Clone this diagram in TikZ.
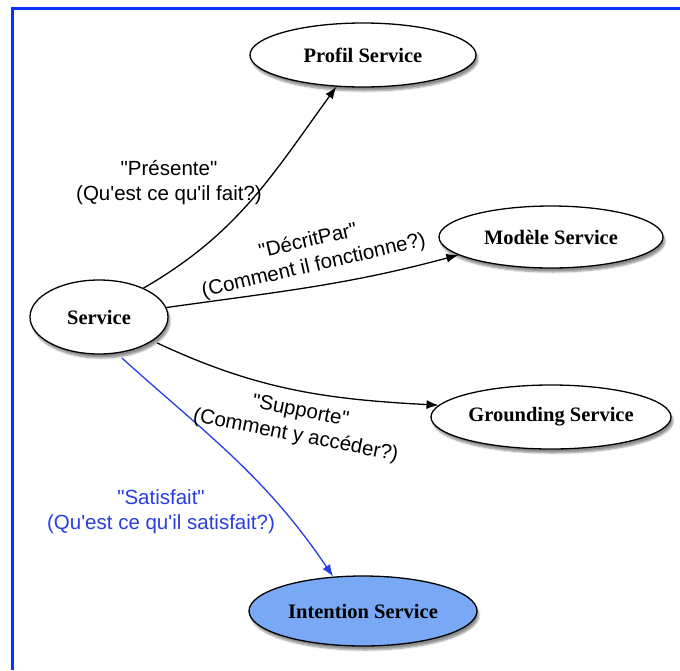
\documentclass[tikz,border=0pt]{standalone}
\usepackage{fontspec}
\setmainfont{Liberation Serif}
\newfontfamily\lblfont{Liberation Sans}
\usetikzlibrary{shapes.geometric,arrows.meta,shadows.blur}
\definecolor{frameblue}{RGB}{10,50,255}
\definecolor{linkblue}{RGB}{40,62,225}
\definecolor{fillblue}{RGB}{121,168,245}
\tikzset{
  svcnode/.style={ellipse, draw=black, line width=1.3pt, fill=white, inner sep=0pt,
    font=\fontsize{20.5}{22}\selectfont\bfseries,
    blur shadow={shadow xshift=2pt, shadow yshift=-4pt, shadow blur steps=6, shadow opacity=45}},
  rel/.style={line width=1.3pt, -{Latex[length=12pt,width=9pt]}},
  lbl/.style={font=\lblfont\fontsize{20.5}{25}\selectfont, align=center, inner sep=0pt},
}
\begin{document}
\begin{tikzpicture}[x=1pt,y=-1pt]
\useasboundingbox (0,0) rectangle (680,670);
\draw[frameblue, line width=3pt] (12,670) -- (12,8) -- (681,8);

\node[svcnode, minimum width=226pt, minimum height=64pt] (prof) at (363,55) {Profil Service};
\node[svcnode, minimum width=224pt, minimum height=62pt] (mod) at (551,237) {Modèle Service};
\node[svcnode, minimum width=240pt, minimum height=64pt] (grd) at (551,417) {Grounding Service};
\node[svcnode, minimum width=138pt, minimum height=74pt] (svc) at (99,317) {Service};
\node[svcnode, fill=fillblue, minimum width=228pt, minimum height=70pt] (int) at (363,611) {Intention Service};

\draw[rel] (svc.33) to[out=30, in=-126] (prof.230);
\draw[rel] (svc.8) to[out=8, in=195] (mod.191);
\draw[rel, shorten <=5pt] (svc.-24) to[out=-25, in=177] (grd.174);
\draw[rel, linkblue, shorten <=7pt] (svc.-64) to[out=-42, in=124] (int.131);

\node[lbl] (l1) at (169,183) {"Présente"\\(Qu'est ce qu'il fait?)};
\node[lbl, rotate=13] (l2) at (311,254) {"DécritPar"\\(Comment il fonctionne?)};
\node[lbl, rotate=-11] (l3) at (298,424) {"Supporte"\\(Comment y accéder?)};
\node[lbl, text=linkblue] (l4) at (161,512) {"Satisfait"\\(Qu'est ce qu'il satisfait?)};
\end{tikzpicture}
\end{document}
